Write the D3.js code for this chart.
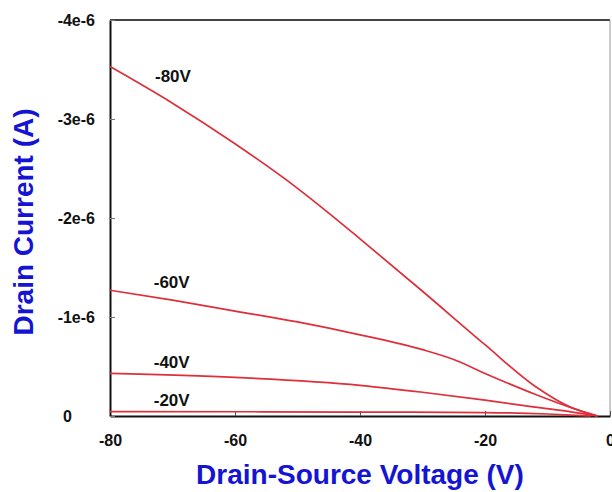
<!DOCTYPE html>
<html>
<head>
<meta charset="utf-8">
<script src="https://cdn.jsdelivr.net/npm/d3@7"></script>
<style>
  body { margin: 0; background: #fff; }
  text { font-family: "Liberation Sans", Arial, sans-serif; font-weight: bold; }
</style>
</head>
<body>
<figure id="idvd-chart" style="margin:0"></figure>
<script>
// drain-source voltage (V) and drain current (x1e-6 A, sign flipped on the axis)
var gateLabels = ["-80V", "-60V", "-40V", "-20V"];
var vg80 = [[-80, 3.53], [-70, 3.16], [-60, 2.75], [-50, 2.30], [-45, 2.05], [-40, 1.79], [-30, 1.26], [-20, 0.72], [-12, 0.30], [-6, 0.08], [-2, 0]];
var vg60 = [[-80, 1.27], [-70, 1.17], [-60, 1.06], [-50, 0.95], [-40, 0.82], [-30, 0.67], [-25, 0.57], [-20, 0.43], [-12, 0.22], [-6, 0.08], [-2, 0]];
var vg40 = [[-80, 0.43], [-60, 0.39], [-40, 0.31], [-30, 0.24], [-20, 0.16], [-12, 0.09], [-6, 0.04], [-2, 0]];
var vg20 = [[-80, 0.045], [-40, 0.04], [-20, 0.035], [-10, 0.02], [-3, 0]];
var xTicks = [-80, -60, -40, -20, 0];
var xTickLabels = ["-80", "-60", "-40", "-20", "0"];
var yTicks = [0, 1, 2, 3, 4];
var yTickLabels = ["0", "-1e-6", "-2e-6", "-3e-6", "-4e-6"];

var series = [vg80, vg60, vg40, vg20];
// where each gate label sits, in data units
var labelPos = [[-72.8, 3.37], [-73, 1.29], [-73, 0.48], [-73, 0.10]];

var width = 612, height = 492;
var plotLeft = 110, plotRight = 610, plotTop = 20, plotBottom = 416;

var svg = d3.select("figure#idvd-chart").append("svg")
  .attr("width", width)
  .attr("height", height);

var x = d3.scaleLinear().domain([-80, 0]).range([plotLeft, plotRight]);
var y = d3.scaleLinear().domain([0, 4]).range([plotBottom, plotTop]);

/* frame */
svg.append("line").attr("x1", plotLeft).attr("x2", plotRight).attr("y1", plotTop).attr("y2", plotTop)
  .attr("stroke", "#444").attr("stroke-width", 2);
svg.append("line").attr("x1", plotRight).attr("x2", plotRight).attr("y1", plotTop).attr("y2", plotBottom)
  .attr("stroke", "#999").attr("stroke-width", 1);

/* axes */
var xAxis = d3.axisBottom(x).tickValues(xTicks).tickSizeInner(-5).tickSizeOuter(0).tickPadding(19)
  .tickFormat((d, i) => xTickLabels[i]);
var gx = svg.append("g")
  .attr("class", "x-axis")
  .attr("transform", `translate(0, ${plotBottom})`)
  .call(xAxis);
gx.select(".domain").attr("stroke", "#111").attr("stroke-width", 2);
gx.selectAll(".tick line").attr("stroke", "#555");
gx.selectAll("text").attr("font-size", 16).attr("fill", "#111")
  .style("font-family", "Liberation Sans, Arial, sans-serif").style("font-weight", "bold");

var yAxis = d3.axisLeft(y).tickValues(yTicks).tickSizeInner(-5).tickSizeOuter(0).tickPadding(15)
  .tickFormat((d, i) => yTickLabels[i]);
var gy = svg.append("g")
  .attr("class", "y-axis")
  .attr("transform", `translate(${plotLeft}, 0)`)
  .call(yAxis);
gy.select(".domain").attr("stroke", "#111").attr("stroke-width", 2);
gy.selectAll(".tick line").attr("stroke", "#777");
gy.selectAll("text").attr("font-size", 16).attr("fill", "#111")
  .style("font-family", "Liberation Sans, Arial, sans-serif").style("font-weight", "bold")
  .attr("dx", d => d === 0 ? -23 : 0);

/* curves */
var line = d3.line()
  .x(d => x(d[0]))
  .y(d => y(d[1]))
  .curve(d3.curveMonotoneX);

svg.append("g").attr("class", "lines")
  .selectAll("path")
  .data(series).enter()
  .append("path")
  .attr("fill", "none")
  .attr("stroke", "#de2f3a")
  .attr("stroke-width", 1.7)
  .attr("d", d => line(d));

svg.append("g").attr("class", "gate-labels")
  .selectAll("text")
  .data(gateLabels).enter()
  .append("text")
  .attr("x", (d, i) => x(labelPos[i][0]))
  .attr("y", (d, i) => y(labelPos[i][1]))
  .attr("font-size", 17)
  .attr("fill", "#111")
  .text(d => d);

/* axis titles */
svg.append("text")
  .attr("x", 360)
  .attr("y", 484)
  .attr("text-anchor", "middle")
  .attr("font-size", 28)
  .attr("fill", "#1414d2")
  .text("Drain-Source Voltage (V)");

svg.append("text")
  .attr("transform", "rotate(-90)")
  .attr("x", -222)
  .attr("y", 33)
  .attr("text-anchor", "middle")
  .attr("font-size", 28)
  .attr("fill", "#1414d2")
  .text("Drain Current (A)");
</script>
</body>
</html>
